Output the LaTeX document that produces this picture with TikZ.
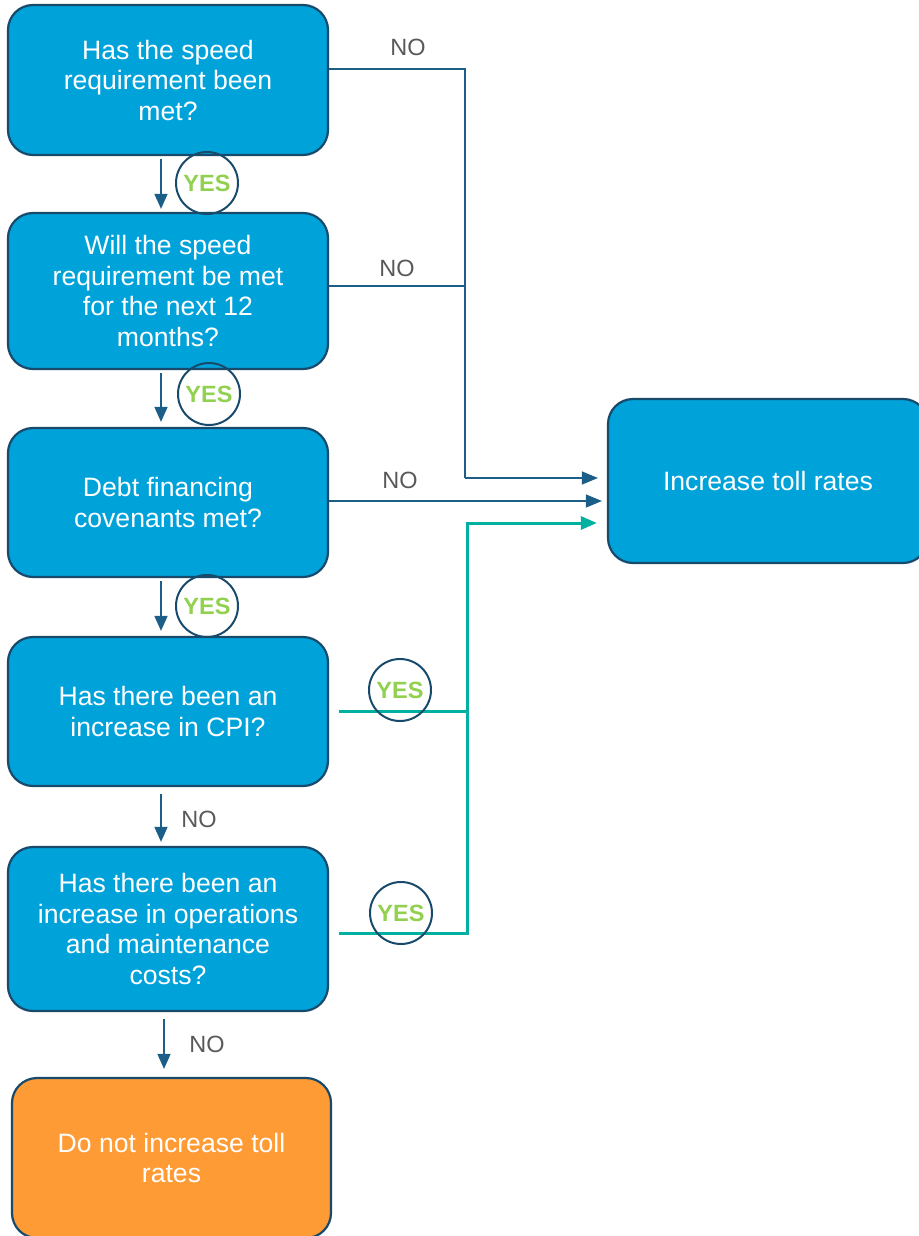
\documentclass[tikz,border=0pt]{standalone}
\usepackage{fontspec}
\setmainfont{Liberation Sans}
\usetikzlibrary{arrows.meta,calc}
\definecolor{boxblue}{HTML}{00A2DA}
\definecolor{navy}{HTML}{174A6B}
\definecolor{linkblue}{HTML}{1B5E88}
\definecolor{tealc}{HTML}{00B0A0}
\definecolor{yesgreen}{HTML}{92D050}
\definecolor{orangebox}{HTML}{FF9B35}
\definecolor{nogray}{HTML}{595959}
\begin{document}
\begin{tikzpicture}[x=1pt,y=-1pt,
  box/.style={draw=navy, line width=2.2pt, fill=boxblue, rounded corners=25pt, text=white,
    align=center, font=\fontsize{26.6}{30.5}\selectfont, inner sep=0pt,
    minimum width=320pt},
  obox/.style={box, fill=orangebox},
  yescirc/.style={circle, draw=navy, line width=2pt, minimum size=62pt, inner sep=0pt,
    text=yesgreen, font=\fontsize{23.5}{24}\selectfont\bfseries},
  nolab/.style={text=nogray, font=\fontsize{23.5}{24}\selectfont, inner sep=0pt},
  downarr/.style={draw=linkblue, line width=1.5pt, -{Triangle[length=15pt,width=13pt]}},
  noline/.style={draw=linkblue, line width=1.3pt},
  noarr/.style={noline, -{Triangle[length=16pt,width=13pt]}},
  yesline/.style={draw=tealc, line width=3pt},
  yesarr/.style={yesline, -{Triangle[length=16pt,width=13pt]}}
]
\useasboundingbox (0,0) rectangle (918,1236);

% boxes
\node[box, minimum height=150pt] (b1) at (168,80) {Has the speed\\requirement been\\met?};
\node[box, minimum height=156pt] (b2) at (168,291) {Will the speed\\requirement be met\\for the next 12\\months?};
\node[box, minimum height=149pt] (b3) at (168,502.5) {Debt financing\\covenants met?};
\node[box, minimum height=149pt] (b4) at (168,711.5) {Has there been an\\increase in CPI?};
\node[box, minimum height=164pt] (b5) at (168,929) {Has there been an\\increase in operations\\and maintenance\\costs?};
\node[obox, minimum width=319pt, minimum height=160pt] (b6) at (171.5,1158) {Do not increase toll\\rates};
\node[box, minimum height=164pt] (toll) at (768,481) {Increase toll rates};

% vertical yes/no arrows
\draw[downarr] ([xshift=-7pt,yshift=-3pt]b1.south) -- ([xshift=-7pt,yshift=3pt]b2.north);
\draw[downarr] ([xshift=-7pt,yshift=-3pt]b2.south) -- ([xshift=-7pt,yshift=5pt]b3.north);
\draw[downarr] ([xshift=-7pt,yshift=-3pt]b3.south) -- ([xshift=-7pt,yshift=5pt]b4.north);
\draw[downarr] ([xshift=-7pt,yshift=-7pt]b4.south) -- ([xshift=-7pt,yshift=4pt]b5.north);
\draw[downarr] ([xshift=-4pt,yshift=-7pt]b5.south) -- ([xshift=-7.5pt,yshift=8pt]b6.north);

\node[yescirc] (y1) at (207,183) {YES};
\node[yescirc] (y2) at (209,394) {YES};
\node[yescirc] (y3) at (207,606) {YES};
\node[nolab] (n4) at (199,819) {NO};
\node[nolab] (n5) at (207,1044) {NO};

% NO connectors to toll box
\coordinate (bus) at (465,478);
\coordinate (n2s) at ([yshift=5pt]b2.east);
\draw[noline] ([yshift=11pt]b1.east) -| (bus);
\draw[noline] (n2s) -- (n2s -| bus);
\draw[noarr] (bus) -- ([xshift=-9pt,yshift=3pt]toll.west);
\coordinate (n3s) at ([yshift=1.5pt]b3.east);
\draw[noarr] (n3s) -- ([xshift=-5pt]n3s -| toll.west);
\node[nolab] (n1) at (408,47) {NO};
\node[nolab] (n2) at (397,268) {NO};
\node[nolab] (n3) at (400,480) {NO};

% YES connectors (teal)
\coordinate (tbus) at (467,523);
\coordinate (y4s) at ([xshift=10pt]b4.east);
\coordinate (y5s) at ([xshift=10pt,yshift=-4pt]b5.east);
\draw[yesline] (y4s) -- (y4s -| tbus);
\draw[yesline] (y5s) -| (tbus);
\draw[yesarr] ([yshift=-1.5pt]tbus) |- ([xshift=-10pt,yshift=-42pt]toll.west);
\node[yescirc] (y4) at (400,690) {YES};
\node[yescirc] (y5) at (401,913) {YES};
\end{tikzpicture}
\end{document}
